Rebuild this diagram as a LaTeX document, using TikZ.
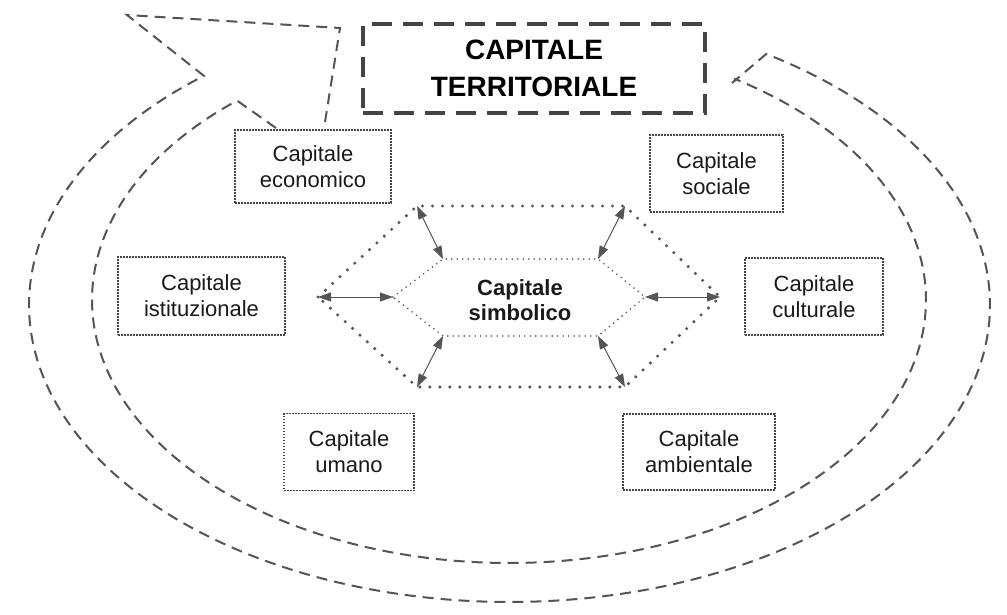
\documentclass[tikz,border=0pt]{standalone}
\usepackage{fontspec}
\setmainfont{Liberation Sans}
\usetikzlibrary{arrows.meta}
\definecolor{lg}{HTML}{555555}
\definecolor{dg}{HTML}{444444}
\definecolor{tx}{HTML}{1A1A1A}
\begin{document}
\begin{tikzpicture}[x=1pt,y=-1pt,
 capbox/.style={draw=dg, line width=1.6pt, dash pattern=on 1.6pt off 1.4pt, text=tx, align=center, font=\fontsize{22}{26}\selectfont, inner sep=0pt},
 titlebox/.style={draw=dg, line width=4pt, dash pattern=on 20pt off 11pt, align=center, font=\bfseries\fontsize{28}{37}\selectfont, text=black, inner sep=0pt},
 spiral/.style={draw=lg, line width=2pt, dash pattern=on 11pt off 7pt},
 hexout/.style={draw=lg, line width=3.4pt, line cap=round, dash pattern=on 0pt off 10pt},
 hexin/.style={draw=lg, line width=1.8pt, line cap=round, dash pattern=on 0pt off 5.5pt},
 link/.style={draw=lg, line width=1pt, {Triangle[length=13pt,width=9pt]}-{Triangle[length=13pt,width=9pt]}}
]
\fill[white] (0,0) rectangle (1007,615);
\useasboundingbox (0,0) rectangle (1007,615);

% spiral arrow
\coordinate (iend) at (732,83);
\coordinate (tip) at (127,15);
\coordinate (hb) at (340,28);
\coordinate (hbe) at (325,122);
\coordinate (iend2) at (276,128);
\draw[spiral] (hbe) -- (hb) -- (tip) -- plot[domain=-230.5:57.7, samples=150, smooth] ({509.5+480.5*cos(\x)},{305-297*sin(\x)}) -- (iend);
\draw[spiral] (iend2) -- plot[domain=-229.3:57.3, samples=150, smooth] ({509+417*cos(\x)},{300-263*sin(\x)});

% title
\node[titlebox, minimum width=342pt, minimum height=89pt] (terr) at (534,68.5) {CAPITALE\\TERRITORIALE};

% boxes
\node[capbox, minimum width=156pt, minimum height=73pt] (eco) at (313,166.5) {Capitale\\economico};
\node[capbox, minimum width=167pt, minimum height=78pt] (ist) at (201.5,296) {Capitale\\istituzionale};
\node[capbox, minimum width=133pt, minimum height=77pt] (soc) at (716.5,173.5) {Capitale\\sociale};
\node[capbox, minimum width=138pt, minimum height=77pt] (cul) at (814,296.5) {Capitale\\culturale};
\node[capbox, minimum width=130pt, minimum height=77pt] (uma) at (349,452) {Capitale\\umano};
\node[capbox, minimum width=152pt, minimum height=76pt] (amb) at (699,452) {Capitale\\ambientale};

% hexagons
\coordinate (o1) at (318,297);
\coordinate (o2) at (417,206);
\coordinate (o3) at (625,206);
\coordinate (o4) at (720,297);
\coordinate (o5) at (625,387);
\coordinate (o6) at (417,387);
\coordinate (i1) at (393,297);
\coordinate (i2) at (443,259);
\coordinate (i3) at (598,259);
\coordinate (i4) at (645,297);
\coordinate (i5) at (598,336);
\coordinate (i6) at (443,336);
\draw[hexout] (o1) -- (o2) -- (o3) -- (o4) -- (o5) -- (o6) -- cycle;
\draw[hexin] (i1) -- (i2) -- (i3) -- (i4) -- (i5) -- (i6) -- cycle;
\node[font=\bfseries\fontsize{22}{25}\selectfont, text=tx, align=center] (sim) at (520,300) {Capitale\\simbolico};
\draw[link] (o1) -- (i1);
\draw[link] (o2) -- (i2);
\draw[link] (o3) -- (i3);
\draw[link] (o4) -- (i4);
\draw[link] (o5) -- (i5);
\draw[link] (o6) -- (i6);
\end{tikzpicture}
\end{document}
